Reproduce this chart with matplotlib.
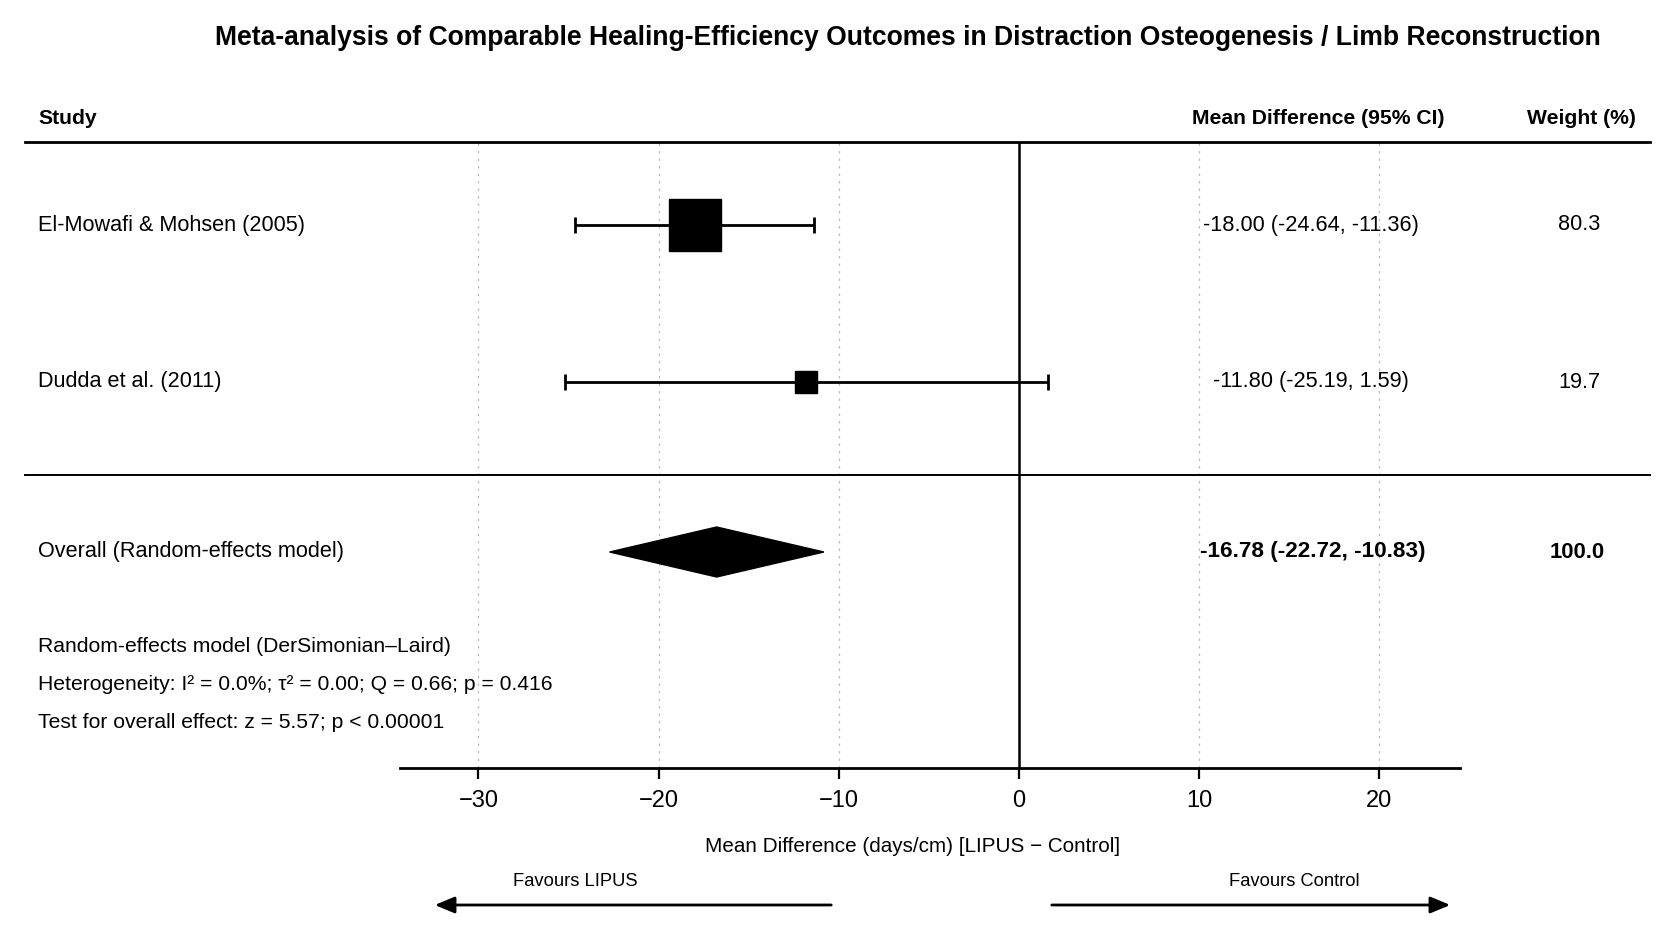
import matplotlib
matplotlib.use("Agg")
import matplotlib.pyplot as plt
from matplotlib.lines import Line2D
from matplotlib.patches import FancyArrowPatch

# Data
studies = ["El-Mowafi & Mohsen (2005)", "Dudda et al. (2011)"]
md = [-18.00, -11.80]
ci_lo = [-24.64, -25.19]
ci_hi = [-11.36, 1.59]
weights = [80.3, 19.7]
overall_md = -16.78
overall_lo = -22.72
overall_hi = -10.83
overall_label = "Overall (Random-effects model)"
xticks = [-30, -20, -10, 0, 10, 20]
notes = [
    "Random-effects model (DerSimonian\u2013Laird)",
    "Heterogeneity: I\u00b2 = 0.0%; \u03c4\u00b2 = 0.00; Q = 0.66; p = 0.416",
    "Test for overall effect: z = 5.57; p < 0.00001",
]

plt.rcParams["font.family"] = ["Liberation Sans", "DejaVu Sans"]

W, H = 1673, 940
fig = plt.figure(figsize=(W / 100, H / 100), dpi=100)


def fx(x):
    return x / W


def fy(y):
    return 1 - y / H


# plot area (pixels)
ax_l, ax_r, ax_t, ax_b = 400, 1460, 142, 768
ax = fig.add_axes([fx(ax_l), fy(ax_b), fx(ax_r - ax_l), (ax_b - ax_t) / H])
ppu = 18.02
zero_px = 1019
ax.set_xlim((ax_l - zero_px) / ppu, (ax_r - zero_px) / ppu)
ax.set_ylim(ax_b, ax_t)

study_y = [225, 382]
overall_y = 552

for s in ["left", "right", "top"]:
    ax.spines[s].set_visible(False)
ax.spines["bottom"].set_linewidth(2)
ax.set_yticks([])
ax.set_xticks(xticks)
ax.set_xticklabels([str(t).replace("-", "\u2212") for t in xticks], fontsize=17)
ax.tick_params(axis="x", length=8, width=1.6, pad=8)
ax.grid(axis="x", linestyle=(0, (2, 4)), color="#bbbbbb", linewidth=0.9)
ax.set_axisbelow(True)
ax.axvline(0, color="black", linewidth=1.8)

# studies
for y, m, lo, hi, w in zip(study_y, md, ci_lo, ci_hi, weights):
    ax.errorbar([m], [y], xerr=[[m - lo], [hi - m]], fmt="none", ecolor="black",
                elinewidth=2, capsize=6, capthick=2)
    side = 3.74 * w ** 0.6
    ax.plot([m], [y], marker="s", markersize=side * 0.72, color="black", linestyle="none")

# overall diamond
ax.fill([overall_lo, overall_md, overall_hi, overall_md],
        [overall_y, overall_y - 25, overall_y, overall_y + 25], color="black")

# rules
for y, lw in [(142, 2.0), (475, 1.4)]:
    fig.add_artist(Line2D([fx(25), fx(1650)], [fy(y), fy(y)], color="black", linewidth=lw))

# texts
fig.text(fx(908), fy(38), "Meta-analysis of Comparable Healing-Efficiency Outcomes in Distraction Osteogenesis / Limb Reconstruction",
         ha="center", va="center", fontsize=19.1, fontweight="bold")
fig.text(fx(38), fy(119), "Study", ha="left", va="center", fontsize=15.2, fontweight="bold")
fig.text(fx(1318), fy(119), "Mean Difference (95% CI)", ha="center", va="center", fontsize=15.2, fontweight="bold")
fig.text(fx(1581), fy(119), "Weight (%)", ha="center", va="center", fontsize=15.2, fontweight="bold")

for y, name, m, lo, hi, w in zip(study_y, studies, md, ci_lo, ci_hi, weights):
    fig.text(fx(38), fy(y), name, ha="left", va="center", fontsize=15.6)
    fig.text(fx(1311), fy(y), f"{m:.2f} ({lo:.2f}, {hi:.2f})", ha="center", va="center", fontsize=15.7)
    fig.text(fx(1579), fy(y), f"{w:.1f}", ha="center", va="center", fontsize=15.6)

fig.text(fx(38), fy(overall_y), overall_label, ha="left", va="center", fontsize=15.6)
fig.text(fx(1313), fy(overall_y), f"{overall_md:.2f} ({overall_lo:.2f}, {overall_hi:.2f})",
         ha="center", va="center", fontsize=16.2, fontweight="bold")
fig.text(fx(1577), fy(overall_y), f"{sum(weights):.1f}", ha="center", va="center",
         fontsize=15.8, fontweight="bold")

for y, t in zip([647, 684, 722], notes):
    fig.text(fx(38), fy(y), t, ha="left", va="center", fontsize=15.2)

fig.text(fx(913), fy(846), "Mean Difference (days/cm) [LIPUS \u2212 Control]", ha="center", va="center", fontsize=14.9)

fig.text(fx(575), fy(881), "Favours LIPUS", ha="center", va="center", fontsize=13.2)
fig.text(fx(1294), fy(881), "Favours Control", ha="center", va="center", fontsize=13.2)
for x0, x1 in [(834, 432), (1049, 1453)]:
    fig.add_artist(FancyArrowPatch((fx(x0), fy(905)), (fx(x1), fy(905)), transform=fig.transFigure,
                                   arrowstyle="-|>,head_length=0.6,head_width=0.25", mutation_scale=20,
                                   linewidth=2, color="black"))

fig.savefig("out.png", dpi=100)
